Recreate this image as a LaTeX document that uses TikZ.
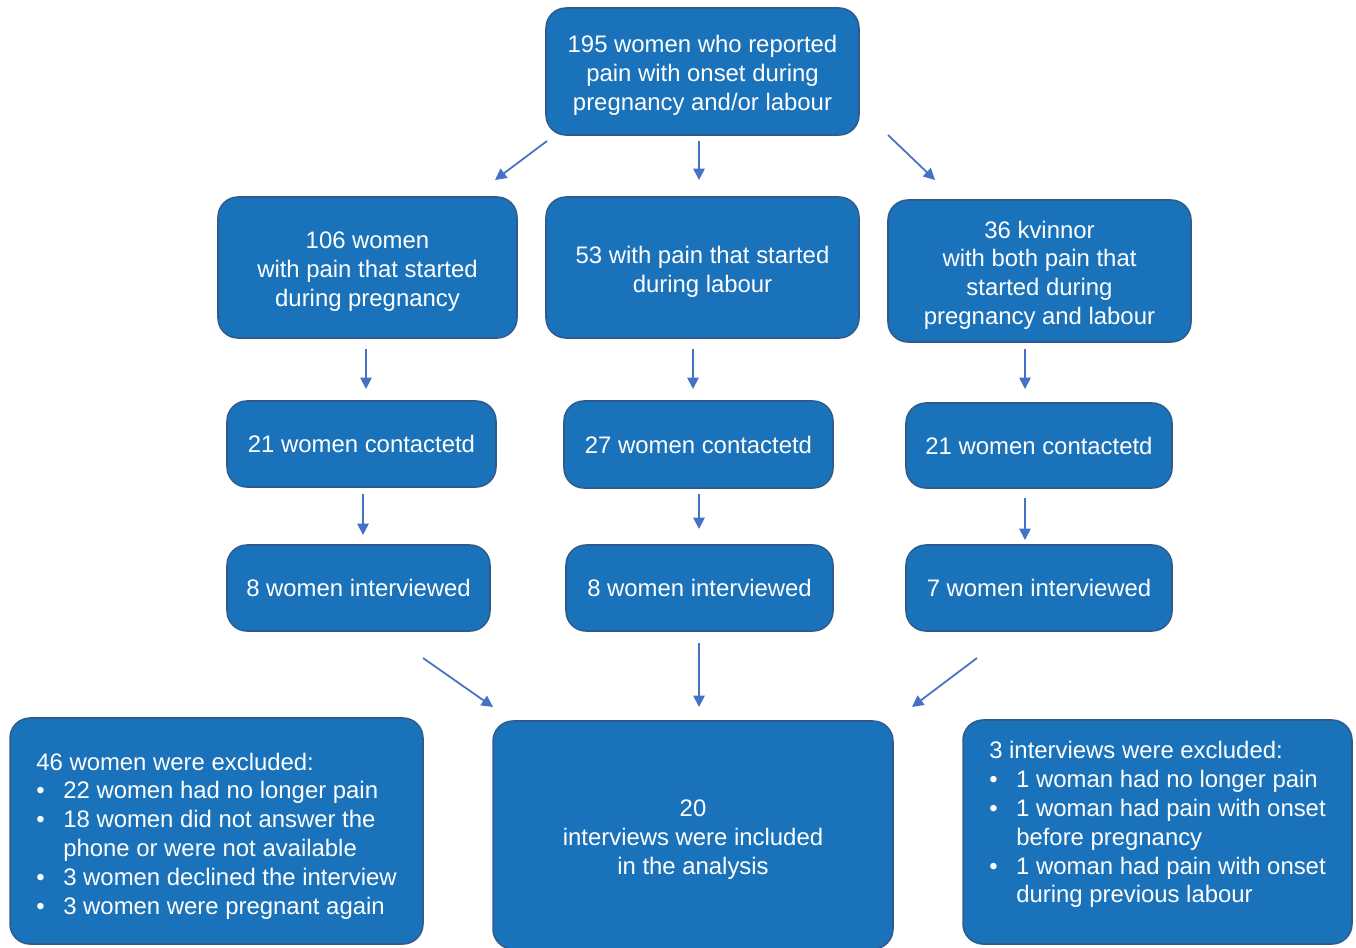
\documentclass[tikz,border=0pt]{standalone}
\usepackage{fontspec}
\setmainfont{Liberation Sans}
\usetikzlibrary{arrows.meta}
\definecolor{boxfill}{HTML}{1A73BA}
\definecolor{boxline}{HTML}{2F5C8F}
\definecolor{arrowcol}{HTML}{4472C4}
\tikzset{
  flowbox/.style={rectangle, rounded corners=0.4cm, draw=boxline, line width=0.9pt,
    fill=boxfill, text=white, align=center, inner sep=0pt},
  flowarrow/.style={-{Triangle[length=6.5pt,width=6.5pt]}, draw=arrowcol, line width=1pt}
}
\newcommand{\bul}{\makebox[0.54cm][l]{\textbullet}}
\newcommand{\bulgap}{\hspace*{0.54cm}}
\newcommand{\topline}{\rule{0pt}{14.5pt}}
\begin{document}
\begin{tikzpicture}[x=0.02cm, y=-0.02cm, font=\fontsize{13.6}{16.4}\selectfont]
      \useasboundingbox (0,0) rectangle (1356,947);
      % first level
      \node[flowbox, minimum width=6.26cm, minimum height=2.54cm] (top) at (702.5,71.5)
        {\topline 195 women who reported\\pain with onset during\\pregnancy and/or labour};
      % groups
      \node[flowbox, minimum width=5.98cm, minimum height=2.82cm] (preg) at (367.5,267.5)
        {\topline 106 women\\with pain that started\\during pregnancy};
      \node[flowbox, minimum width=6.26cm, minimum height=2.82cm] (lab) at (702.5,267.5)
        {\topline 53 with pain that started\\during labour};
      \node[flowbox, minimum width=6.06cm, minimum height=2.84cm] (both) at (1039.5,271)
        {\topline 36 kvinnor\\with both pain that\\started during\\pregnancy and labour};
      % contacted
      \node[flowbox, minimum width=5.38cm, minimum height=1.72cm] (pregc) at (361.5,444)
        {21 women contactetd};
      \node[flowbox, minimum width=5.38cm, minimum height=1.74cm] (labc) at (698.5,444.5)
        {27 women contactetd};
      \node[flowbox, minimum width=5.32cm, minimum height=1.70cm] (bothc) at (1039,445.5)
        {21 women contactetd};
      % interviewed
      \node[flowbox, minimum width=5.26cm, minimum height=1.72cm] (pregi) at (358.5,588)
        {8 women interviewed};
      \node[flowbox, minimum width=5.34cm, minimum height=1.72cm] (labi) at (699.5,588)
        {8 women interviewed};
      \node[flowbox, minimum width=5.32cm, minimum height=1.72cm] (bothi) at (1039,588)
        {7 women interviewed};
      % result
      \node[flowbox, minimum width=8.26cm, minimum height=4.52cm, align=left] (excl) at (216.5,831)
        {\rule{0pt}{15.5pt}46 women were excluded:\\
         \bul 22 women had no longer pain\\
         \bul 18 women did not answer the\\
         \bulgap phone or were not available\\
         \bul 3 women declined the interview\\
         \bul 3 women were pregnant again};
      \node[flowbox, minimum width=8.0cm, minimum height=4.56cm] (incl) at (693,835)
        {\topline 20\\interviews were included\\in the analysis};
      \node[flowbox, minimum width=7.78cm, minimum height=4.48cm, align=left,
        text depth=0.39cm] (exint) at (1157.5,832)
        {3 interviews were excluded:\\
         \bul 1 woman had no longer pain\\
         \bul 1 woman had pain with onset\\
         \bulgap before pregnancy\\
         \bul 1 woman had pain with onset\\
         \bulgap during previous labour};
      % arrow ends
      \coordinate (a1) at (547,141);   \coordinate (b1) at (495,180);
      \coordinate (a2) at (699,141);   \coordinate (b2) at (699,180);
      \coordinate (a3) at (888,135);   \coordinate (b3) at (935,180);
      \coordinate (a4) at (366,349);   \coordinate (b4) at (366,389);
      \coordinate (a5) at (693,349);   \coordinate (b5) at (693,389);
      \coordinate (a6) at (1025,349);  \coordinate (b6) at (1025,389);
      \coordinate (a7) at (363,494);   \coordinate (b7) at (363,535);
      \coordinate (a8) at (699,494);   \coordinate (b8) at (699,529);
      \coordinate (a9) at (1025,498);  \coordinate (b9) at (1025,540);
      \coordinate (a10) at (423,658);  \coordinate (b10) at (493,707);
      \coordinate (a11) at (699,643);  \coordinate (b11) at (699,707);
      \coordinate (a12) at (977,658);  \coordinate (b12) at (912,707);
      \begin{scope}[flowarrow]
        \draw (a1) to (b1);
        \draw (a2) to (b2);
        \draw (a3) to (b3);
        \draw (a4) to (b4);
        \draw (a5) to (b5);
        \draw (a6) to (b6);
        \draw (a7) to (b7);
        \draw (a8) to (b8);
        \draw (a9) to (b9);
        \draw (a10) to (b10);
        \draw (a11) to (b11);
        \draw (a12) to (b12);
      \end{scope}
    \end{tikzpicture}
\end{document}
